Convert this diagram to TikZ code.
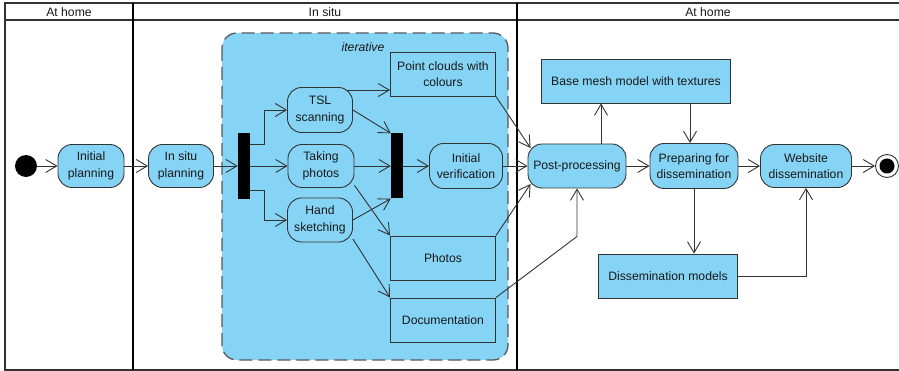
\documentclass[tikz,border=0pt]{standalone}
\usepackage{fontspec}
\setmainfont{Liberation Sans}
\usetikzlibrary{arrows.meta,positioning}
\definecolor{actblue}{RGB}{133,212,245}
\definecolor{lineclr}{RGB}{51,51,51}

\begin{document}
\begin{tikzpicture}[x=1pt,y=-1pt,>={Straight Barb[length=11pt,width=13pt]},
  every node/.style={font=\fontsize{12.2}{16.5}\selectfont,text=black!90},
  act/.style={draw=lineclr,fill=actblue,rounded corners=14pt,align=center,inner sep=2pt,line width=0.9pt},
  obj/.style={draw=lineclr,fill=actblue,align=center,inner sep=2pt,line width=0.9pt},
  bar/.style={fill=black,inner sep=0pt,minimum width=12pt,minimum height=66pt},
  flow/.style={->,draw=lineclr,line width=0.9pt},
  lane/.style={line width=2pt,draw=black}]
\path[fill=white] (0,0) rectangle (899,371);
\useasboundingbox (0,0) rectangle (899,371);
% swimlanes
\draw[line width=1.5pt,lineclr] (899,3) -- (5,3) -- (5,370) -- (899,370);
\draw[line width=1.5pt,lineclr] (5,20) -- (899,20);
\draw[lane] (133,3) -- (133,370);
\draw[lane] (517,3) -- (517,370);
\node (hhome) at (69,12) {At home};
\node (hsitu) at (325,12) {In situ};
\node (hback) at (708,12) {At home};
% iterative region
\draw[fill=actblue,draw=black!65,line width=1.3pt,dash pattern=on 13pt off 6pt,rounded corners=15pt]
  (222,33) rectangle (508,360);
\node (iterlbl) at (363,47) {\itshape iterative};

\node[circle,fill=black,minimum size=22pt,inner sep=0pt] (start) at (26,166) {};
\node[act,minimum width=66pt,minimum height=43pt] (plan) at (91,166) {Initial\\planning};
\node[act,minimum width=65pt,minimum height=43pt] (situplan) at (181,166) {In situ\\planning};
\node[bar] (fork) at (244,166) {};
\node[act,minimum width=65pt,minimum height=45pt] (tsl) at (320,110) {TSL\\scanning};
\node[act,minimum width=66pt,minimum height=43pt] (photo) at (321,166) {Taking\\photos};
\node[act,minimum width=65pt,minimum height=44pt] (sketch) at (320,220) {Hand\\sketching};
\node[bar,minimum height=65pt] (join) at (397,166) {};
\node[act,minimum width=73pt,minimum height=45pt] (verif) at (466,166) {Initial\\verification};
\node[obj,minimum width=105pt,minimum height=44pt] (clouds) at (443,74) {Point clouds with\\colours};
\node[obj,minimum width=105pt,minimum height=44pt] (photos) at (443,258) {Photos};
\node[obj,minimum width=105pt,minimum height=44pt] (docu) at (443,320) {Documentation};
\node[act,minimum width=98pt,minimum height=44pt] (post) at (577,166) {Post-processing};
\node[obj,minimum width=189pt,minimum height=44pt] (mesh) at (636,81) {Base mesh model with textures};
\node[act,minimum width=88pt,minimum height=45pt] (prep) at (694,166) {Preparing for\\dissemination};
\node[obj,minimum width=139pt,minimum height=44pt] (dissmod) at (668,276) {Dissemination models};
\node[act,minimum width=91pt,minimum height=43pt] (web) at (806,166) {Website\\dissemination};
\node[circle,draw=lineclr,fill=white,line width=0.9pt,minimum size=23pt,inner sep=0pt] (final) at (887,166) {};
\node[circle,fill=black,minimum size=15pt,inner sep=0pt] (finaldot) at (final) {};

\coordinate (tslc) at ([xshift=-6pt,yshift=-3pt]tsl.north east);
\coordinate (pm) at ([xshift=24pt]post.north);
\coordinate (mp) at ([xshift=-4pt]prep.north);

\draw[flow] (start) -- (plan);
\draw[flow] (plan) -- (situplan);
\draw[flow] (situplan) -- (fork);
\draw[flow] ([yshift=22pt]fork.east) -- ++(14,0) |- (tsl);
\draw[flow] (fork) -- (photo);
\draw[flow] ([yshift=-24pt]fork.east) -- ++(14,0) |- (sketch);
\draw[flow] (tslc) -- (tslc -| clouds.west);
\draw[flow] (tsl.east) -- (join.north west);
\draw[flow] (photo) -- (join);
\draw[flow] (sketch.east) -- (join.south west);
\draw[flow] (photo.-30) -- (photos.north west);
\draw[flow] (sketch.-30) -- (docu.north west);
\draw[flow] (join) -- (verif);
\draw[flow] (clouds.south east) -- ([xshift=3pt]post.160);
\draw[flow] (verif) -- (post);
\draw[flow] (photos.north east) -- ([xshift=3pt]post.200);
\draw[flow] (docu.north east) -- ([yshift=-48pt]post.south) -- (post.south);
\draw[flow] (pm) -- (pm |- mesh.south);
\draw[flow] (mp |- mesh.south) -- (mp);
\draw[flow] (post) -- (prep);
\draw[flow] (prep.south) -- (prep.south |- dissmod.north);
\draw[flow] (dissmod.east) -| (web.south);
\draw[flow] (prep) -- (web);
\draw[flow] (web) -- (final);
\end{tikzpicture}
\end{document}
